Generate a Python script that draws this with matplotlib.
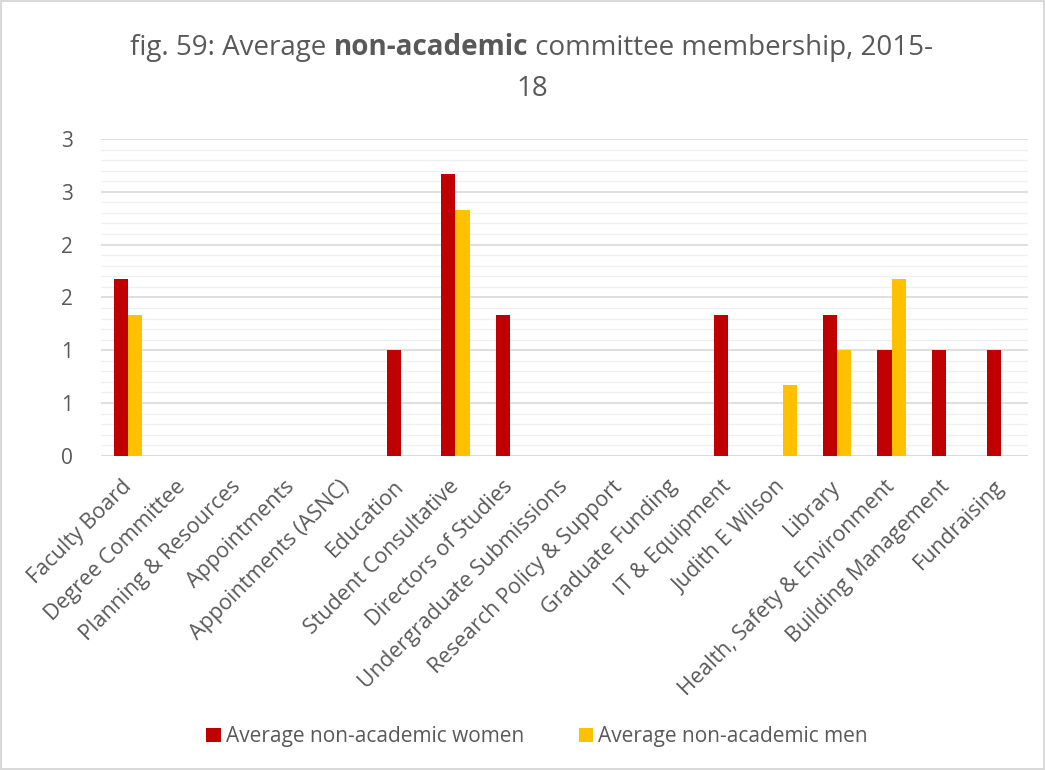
import matplotlib.pyplot as plt
from matplotlib.ticker import MultipleLocator, FuncFormatter
import numpy as np

categories = ["Faculty Board", "Degree Committee", "Planning & Resources",
              "Appointments", "Appointments (ASNC)", "Education",
              "Student Consultative", "Directors of Studies",
              "Undergraduate Submissions", "Research Policy & Support",
              "Graduate Funding", "IT & Equipment", "Judith E Wilson",
              "Library", "Health, Safety & Environment",
              "Building Management", "Fundraising"]
women = [1.67, 0, 0, 0, 0, 1.0, 2.67, 1.33, 0, 0, 0, 1.33, 0, 1.33, 1.0, 1.0, 1.0]
men = [1.33, 0, 0, 0, 0, 0, 2.33, 0, 0, 0, 0, 0, 0.67, 1.0, 1.67, 0, 0]

plt.rcParams['font.family'] = ['Open Sans', 'DejaVu Sans']
txt = '#595959'

fig = plt.figure(figsize=(10.45, 7.7), dpi=100)
fig.patch.set_edgecolor('#d9d9d9')
fig.patch.set_linewidth(1.5)
ax = fig.add_axes([0.0967, 0.408, 0.887, 0.4115])

x = np.arange(len(categories))
w = 0.26
ax.bar(x - w / 2, women, w, color='#C00000', label='Average non-academic women', zorder=3)
ax.bar(x + w / 2, men, w, color='#FFC000', label='Average non-academic men', zorder=3)

ax.set_xlim(-0.5, len(categories) - 0.5)
ax.set_ylim(0, 3)
ax.yaxis.set_major_locator(MultipleLocator(0.5))
ax.yaxis.set_minor_locator(MultipleLocator(0.1))
ax.yaxis.set_major_formatter(FuncFormatter(lambda v, p: '%d' % int(np.floor(v + 0.5))))
ax.grid(axis='y', which='major', color='#d9d9d9', linewidth=1.2, zorder=0)
ax.grid(axis='y', which='minor', color='#f0f0f0', linewidth=1.0, zorder=0)
for s in ax.spines.values():
    s.set_visible(False)
ax.axhline(0, color='#d9d9d9', linewidth=1.2, zorder=2)
ax.tick_params(axis='both', which='both', length=0, labelsize=15, labelcolor=txt)
ax.tick_params(axis='y', pad=20)
ax.tick_params(axis='x', pad=20)
ax.set_xticks(x)
ax.set_xticklabels(categories, rotation=45, ha='right', va='center',
                   rotation_mode='anchor', fontsize=15.5)

# title with bold middle part
parts = [("fig. 59: Average ", 'normal'), ("non-academic", 'bold'),
         (" committee membership, 2015-", 'normal')]
fs = 20
renderer = fig.canvas.get_renderer()
objs = []
for s, wt in parts:
    t = fig.text(0, 0.938, s, fontsize=fs, fontweight=wt, color=txt, va='center', ha='left')
    objs.append(t)
widths = [t.get_window_extent(renderer).width for t in objs]
total = sum(widths)
xpos = 532 - total / 2
for t, wd in zip(objs, widths):
    t.set_x(xpos / 1045)
    xpos += wd
fig.text(0.509, 0.885, "18", fontsize=fs, color=txt, ha='center', va='center')

fig.legend(loc='center', bbox_to_anchor=(0.514, 0.043), ncol=2, frameon=False,
           fontsize=15, labelcolor=txt, handlelength=0.7, handleheight=0.7,
           handletextpad=0.25, columnspacing=2.6)

fig.savefig('out.png', dpi=100)
